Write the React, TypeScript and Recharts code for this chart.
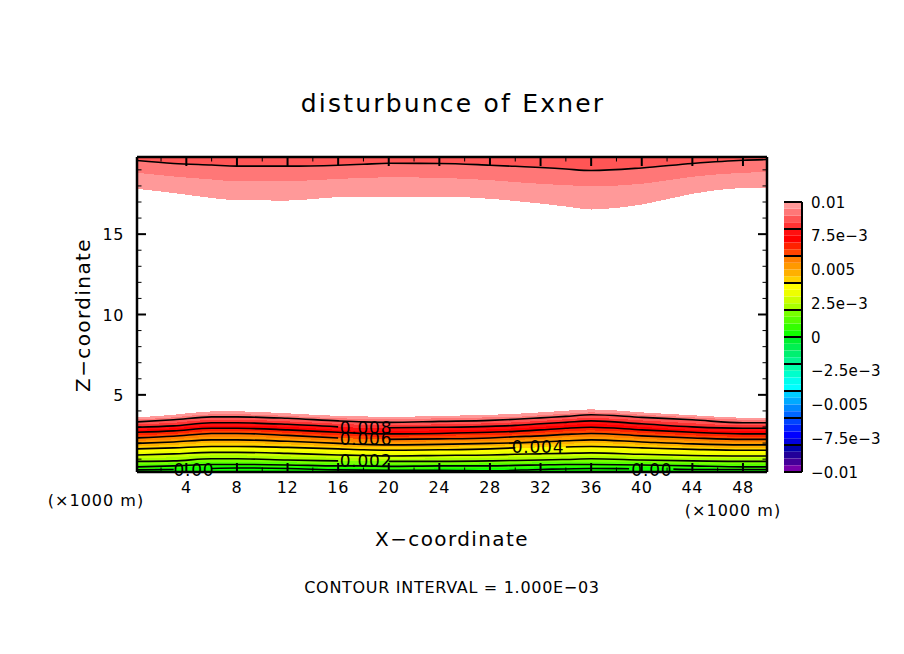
import React from "react";
import {
  Area,
  Bar,
  BarChart,
  ComposedChart,
  Line,
  ReferenceDot,
  ReferenceLine,
  XAxis,
  YAxis,
} from "recharts";

const FONT = "'DejaVu Sans', sans-serif";

const xs = [0.1, 3, 6, 8, 12, 16, 18, 20, 24, 28, 30, 32, 34, 36, 40, 44, 48, 49.9];

// height (km) of each contour in the lower layer, c095 = 0.0095 etc
const c100 = [3.6, 3.76, 3.97, 3.97, 3.85, 3.69, 3.66, 3.63, 3.69, 3.76, 3.82, 3.91, 4.01, 4.1, 3.91, 3.73, 3.57, 3.54];
const c095 = [3.47, 3.6, 3.79, 3.79, 3.69, 3.54, 3.51, 3.48, 3.54, 3.6, 3.63, 3.73, 3.82, 3.91, 3.76, 3.6, 3.45, 3.41];
const c090 = [3.32, 3.45, 3.63, 3.63, 3.54, 3.38, 3.32, 3.29, 3.35, 3.41, 3.48, 3.57, 3.66, 3.76, 3.6, 3.45, 3.26, 3.26];
const c085 = [3.17, 3.26, 3.45, 3.45, 3.35, 3.2, 3.13, 3.1, 3.17, 3.23, 3.29, 3.38, 3.48, 3.57, 3.41, 3.23, 3.1, 3.1];
const c080 = [2.98, 3.07, 3.26, 3.26, 3.17, 3.01, 2.95, 2.95, 2.98, 3.04, 3.1, 3.2, 3.29, 3.38, 3.2, 3.01, 2.92, 2.92];
const c075 = [2.82, 2.92, 3.07, 3.07, 3.01, 2.82, 2.76, 2.76, 2.79, 2.85, 2.92, 3.01, 3.1, 3.2, 3.01, 2.82, 2.73, 2.73];
const c070 = [2.67, 2.76, 2.92, 2.92, 2.82, 2.67, 2.6, 2.57, 2.6, 2.67, 2.73, 2.82, 2.92, 2.98, 2.82, 2.67, 2.57, 2.57];
const c065 = [2.51, 2.57, 2.76, 2.76, 2.64, 2.48, 2.42, 2.39, 2.45, 2.51, 2.54, 2.64, 2.73, 2.79, 2.64, 2.48, 2.39, 2.39];
const c060 = [2.32, 2.42, 2.6, 2.6, 2.48, 2.32, 2.26, 2.23, 2.26, 2.32, 2.39, 2.45, 2.54, 2.6, 2.45, 2.32, 2.23, 2.23];
const c055 = [2.14, 2.23, 2.39, 2.39, 2.29, 2.14, 2.07, 2.07, 2.11, 2.14, 2.2, 2.26, 2.36, 2.39, 2.26, 2.14, 2.04, 2.04];
const c050 = [1.98, 2.07, 2.2, 2.2, 2.11, 1.98, 1.92, 1.89, 1.92, 1.98, 2.01, 2.07, 2.14, 2.2, 2.07, 1.95, 1.89, 1.89];
const c045 = [1.79, 1.89, 2.01, 2.01, 1.92, 1.79, 1.76, 1.73, 1.76, 1.83, 1.86, 1.89, 1.95, 2.01, 1.89, 1.76, 1.7, 1.7];
const c040 = [1.64, 1.7, 1.79, 1.79, 1.73, 1.64, 1.58, 1.55, 1.58, 1.64, 1.7, 1.73, 1.76, 1.79, 1.7, 1.61, 1.55, 1.55];
const c035 = [1.45, 1.51, 1.61, 1.61, 1.55, 1.45, 1.39, 1.39, 1.39, 1.45, 1.51, 1.55, 1.58, 1.61, 1.51, 1.42, 1.36, 1.36];
const c030 = [1.26, 1.33, 1.42, 1.42, 1.36, 1.26, 1.23, 1.2, 1.23, 1.26, 1.3, 1.33, 1.36, 1.39, 1.3, 1.23, 1.2, 1.2];
const c025 = [1.08, 1.11, 1.23, 1.23, 1.17, 1.08, 1.05, 1.02, 1.05, 1.08, 1.11, 1.14, 1.17, 1.2, 1.14, 1.08, 1.05, 1.05];
const c020 = [0.86, 0.89, 1.02, 1.02, 0.95, 0.89, 0.86, 0.86, 0.86, 0.89, 0.92, 0.95, 0.98, 1.02, 0.95, 0.89, 0.86, 0.86];
const c015 = [0.67, 0.74, 0.83, 0.83, 0.8, 0.74, 0.7, 0.7, 0.7, 0.74, 0.77, 0.8, 0.83, 0.83, 0.8, 0.74, 0.67, 0.67];
const c010 = [0.52, 0.58, 0.67, 0.67, 0.64, 0.58, 0.58, 0.55, 0.58, 0.58, 0.61, 0.64, 0.67, 0.67, 0.64, 0.58, 0.52, 0.52];
const c005 = [0.39, 0.45, 0.55, 0.55, 0.52, 0.45, 0.42, 0.39, 0.42, 0.42, 0.45, 0.49, 0.52, 0.52, 0.49, 0.45, 0.39, 0.39];

// the zero contour has its own breaks around the two "0.00" labels
const c000Xs = [0.1, 3, 4.5, 6, 8, 12, 16, 20, 24, 28, 32, 36, 39, 40.5, 42.5, 44, 48, 49.9];
const c000Zs = [0.33, 0.36, null, 0.42, 0.45, 0.42, 0.33, 0.3, 0.3, 0.27, 0.36, 0.42, 0.4, null, 0.38, 0.36, 0.36, 0.36];

// upper layer, the field falls back under 0.01 near the model top
const upper100 = [17.82, 17.56, 17.25, 17.11, 17.09, 17.3, 17.32, 17.34, 17.34, 17.2, 17.06, 16.9, 16.72, 16.53, 16.84, 17.51, 17.88, 17.9];
const upper095 = [18.82, 18.59, 18.4, 18.29, 18.29, 18.44, 18.49, 18.54, 18.5, 18.36, 18.24, 18.13, 18.05, 17.98, 18.13, 18.57, 18.82, 18.85];
const upper090 = [19.58, 19.4, 19.3, 19.23, 19.23, 19.29, 19.35, 19.41, 19.4, 19.29, 19.22, 19.15, 19.05, 18.96, 19.12, 19.4, 19.6, 19.64];

const bandLevels = [c100, c095, c090, c085, c080, c075, c070, c065, c060, c055, c050, c045, c040, c035, c030, c025, c020, c015, c010, c005];
const bandColors = [
  "#ff9999", "#ff7777", "#ff5555", "#ff3333",
  "#ff1010", "#ff0000", "#ff2200", "#ff4400",
  "#ff8000", "#ff9900", "#ffb000", "#ffd000",
  "#ffff00", "#eeff00", "#ccff00", "#aaff00",
  "#77ff00", "#55ff00", "#33ff00", "#11ff00",
];

const contourLevels = [c010, c020, c030, c040, c050, c060, c070, c080, c090];
// x sample that is left out of each contour so the line breaks at its label
const contourGaps = [[], [18], [], [32], [], [18], [], [18], []];

const upperLevels = [upper100, upper095, upper090];
const upperColors = ["#ff9999", "#ff7777", "#ff5555"];

const labelTexts = ["0.00", "0.00", "0.002", "0.004", "0.006", "0.008"];
const labelXs = [4.6, 40.8, 18.2, 31.8, 18.2, 18.2];
const labelZs = [0.33, 0.33, 0.89, 1.73, 2.26, 2.95];

const xTicks = [2, 4, 6, 8, 10, 12, 14, 16, 18, 20, 22, 24, 26, 28, 30, 32, 34, 36, 38, 40, 42, 44, 46, 48];
const zTicks = [1, 2, 3, 4, 5, 6, 7, 8, 9, 10, 11, 12, 13, 14, 15, 16, 17, 18, 19];
const xDomain = [0.1, 49.9];
const zDomain = [0.2, 19.8];

// colour bar, from zero outwards
const barUpColors = [
  "#11ff00", "#33ff00", "#55ff00", "#77ff00",
  "#aaff00", "#ccff00", "#eeff00", "#ffff00",
  "#ffd000", "#ffb000", "#ff9900", "#ff8000",
  "#ff4400", "#ff2200", "#ff0000", "#ff1010",
  "#ff3333", "#ff5555", "#ff7777", "#ff9999",
];
const barDownColors = [
  "#00f030", "#00f050", "#00f070", "#00f590",
  "#00ffaa", "#00ffcc", "#00ffee", "#00ffff",
  "#00ccff", "#00aaff", "#0088ff", "#0066ff",
  "#0044ff", "#0022ff", "#0000ff", "#0000dd",
  "#0000aa", "#220099", "#440099", "#7700aa",
];
const barStep = 0.0005;
const barTicks = [0.01, 0.0075, 0.005, 0.0025, 0, -0.0025, -0.005, -0.0075, -0.01];
const barTickLabels = ["0.01", "7.5e\u22123", "0.005", "2.5e\u22123", "0", "\u22122.5e\u22123", "\u22120.005", "\u22127.5e\u22123", "\u22120.01"];
const barLines = [0.01, 0.008, 0.006, 0.004, 0.002, 0, -0.002, -0.004, -0.006, -0.008, -0.01];

const rows = xs.map((x, i) => {
  const row: any = { x };
  bandLevels.forEach((lv, k) => (row[`b${k}`] = lv[i]));
  upperLevels.forEach((lv, k) => (row[`u${k}`] = lv[i]));
  contourLevels.forEach((lv, k) => {
    row[`l${k}`] = contourGaps[k].includes(x) ? null : lv[i];
  });
  row.top = upper090[i];
  return row;
});
const zeroRows = c000Xs.map((x, i) => ({ x, z: c000Zs[i] }));

const barRow: any = { name: "bar" };
barUpColors.forEach((_, i) => (barRow[`p${i}`] = barStep));
barDownColors.forEach((_, i) => (barRow[`n${i}`] = -barStep));

const textProps = { fontFamily: FONT, fill: "#000", textAnchor: "middle" as const };

const xTick = (dir: number, labelled: boolean) => (p: any) => {
  const v = p.payload.value;
  const major = v % 4 === 0;
  return (
    <g>
      <line x1={p.x} x2={p.x} y1={p.y} y2={p.y + dir * (major ? 9 : 4.5)} stroke="#000" strokeWidth={major ? 2 : 1} />
      {labelled && major && (
        <text {...textProps} x={p.x} y={493} fontSize={16} letterSpacing={0.6}>
          {v}
        </text>
      )}
    </g>
  );
};

const zTick = (dir: number, labelled: boolean) => (p: any) => {
  const v = p.payload.value;
  const major = v % 5 === 0;
  return (
    <g>
      <line x1={p.x} x2={p.x + dir * (major ? 9 : 4.5)} y1={p.y} y2={p.y} stroke="#000" strokeWidth={major ? 2 : 1} />
      {labelled && major && (
        <text {...textProps} textAnchor="end" x={124} y={p.y + 6} fontSize={16} letterSpacing={0.6}>
          {v}
        </text>
      )}
    </g>
  );
};

const barTick = (p: any) => {
  const idx = barTicks.indexOf(p.payload.value);
  return (
    <text fontFamily={FONT} fill="#000" x={p.x + 9} y={p.y + 5.5} fontSize={15} letterSpacing={0.3}>
      {barTickLabels[idx]}
    </text>
  );
};

const frame = { stroke: "#000", strokeWidth: 2.5 };

export default function App() {
  return (
    <div style={{ position: "absolute", left: 0, top: 0, width: 904, height: 654, background: "#fff" }}>
      <ComposedChart width={904} height={654} data={rows} margin={{ top: 0, right: 0, bottom: 0, left: 0 }}>
        {bandLevels.map((_, k) => (
          <Area
            key={`band${k}`}
            xAxisId="bottom"
            yAxisId="left"
            type="monotone"
            dataKey={(r: any) => [zDomain[0], r[`b${k}`]]}
            fill={bandColors[k]}
            fillOpacity={1}
            stroke="none"
            dot={false}
            activeDot={false}
            isAnimationActive={false}
            shapeRendering="crispEdges"
          />
        ))}
        {upperLevels.map((_, k) => (
          <Area
            key={`upper${k}`}
            xAxisId="bottom"
            yAxisId="left"
            type="monotone"
            dataKey={(r: any) => [r[`u${k}`], zDomain[1]]}
            fill={upperColors[k]}
            fillOpacity={1}
            stroke="none"
            dot={false}
            activeDot={false}
            isAnimationActive={false}
            shapeRendering="crispEdges"
          />
        ))}
        {contourLevels.map((_, k) => (
          <Line
            key={`contour${k}`}
            xAxisId="bottom"
            yAxisId="left"
            type="monotone"
            dataKey={`l${k}`}
            stroke="#000"
            strokeWidth={1.6}
            dot={false}
            activeDot={false}
            connectNulls={false}
            isAnimationActive={false}
          />
        ))}
        <Line
          xAxisId="bottom"
          yAxisId="left"
          type="monotone"
          dataKey="top"
          stroke="#000"
          strokeWidth={1.6}
          dot={false}
          activeDot={false}
          isAnimationActive={false}
        />
        <Line
          xAxisId="bottom"
          yAxisId="left"
          data={zeroRows}
          type="monotone"
          dataKey="z"
          stroke="#000"
          strokeWidth={1.6}
          dot={false}
          activeDot={false}
          connectNulls={false}
          isAnimationActive={false}
        />
        <XAxis
          xAxisId="bottom"
          type="number"
          dataKey="x"
          orientation="bottom"
          height={182}
          domain={xDomain}
          allowDataOverflow
          ticks={xTicks}
          interval={0}
          tickSize={0}
          tickMargin={0}
          tickLine={false}
          axisLine={frame}
          tick={xTick(-1, true)}
        />
        <XAxis
          xAxisId="top"
          type="number"
          dataKey="x"
          orientation="top"
          height={157}
          domain={xDomain}
          allowDataOverflow
          ticks={xTicks}
          interval={0}
          tickSize={0}
          tickMargin={0}
          tickLine={false}
          axisLine={frame}
          tick={xTick(1, false)}
        />
        <YAxis
          yAxisId="left"
          type="number"
          orientation="left"
          width={137}
          domain={zDomain}
          allowDataOverflow
          ticks={zTicks}
          interval={0}
          tickSize={0}
          tickMargin={0}
          tickLine={false}
          axisLine={frame}
          tick={zTick(1, true)}
        />
        <YAxis
          yAxisId="right"
          type="number"
          orientation="right"
          width={137}
          domain={zDomain}
          allowDataOverflow
          ticks={zTicks}
          interval={0}
          tickSize={0}
          tickMargin={0}
          tickLine={false}
          axisLine={frame}
          tick={zTick(-1, false)}
        />
        {labelTexts.map((t, i) => (
          <ReferenceDot
            key={`label${i}`}
            xAxisId="bottom"
            yAxisId="left"
            x={labelXs[i]}
            y={labelZs[i]}
            r={0}
            stroke="none"
            ifOverflow="visible"
            label={{ value: t, position: "center", fontFamily: FONT, fontSize: 17, letterSpacing: 0.8, fill: "#000" }}
          />
        ))}
        <text {...textProps} x={453} y={112} fontSize={25} letterSpacing={2.2}>
          disturbunce of Exner
        </text>
        <text {...textProps} x={452} y={546} fontSize={20} letterSpacing={1.4}>
          X{"\u2212"}coordinate
        </text>
        <text {...textProps} x={0} y={0} fontSize={20} letterSpacing={1.4} transform="translate(90 315) rotate(-90)">
          Z{"\u2212"}coordinate
        </text>
        <text {...textProps} x={96} y={506} fontSize={16} letterSpacing={1}>
          ({"\u00d7"}1000 m)
        </text>
        <text {...textProps} x={733} y={516} fontSize={16} letterSpacing={1}>
          ({"\u00d7"}1000 m)
        </text>
        <text {...textProps} x={452} y={593} fontSize={16} letterSpacing={0.7}>
          CONTOUR INTERVAL = 1.000E{"\u2212"}03
        </text>
      </ComposedChart>

      <div style={{ position: "absolute", left: 784, top: 192 }}>
        <BarChart
          width={120}
          height={290}
          data={[barRow]}
          stackOffset="sign"
          barCategoryGap={0}
          margin={{ top: 10, right: 0, bottom: 10, left: 0 }}
        >
          <XAxis dataKey="name" hide />
          {barUpColors.map((c, i) => (
            <Bar key={`p${i}`} yAxisId="labels" dataKey={`p${i}`} stackId="c" fill={c} isAnimationActive={false} />
          ))}
          {barDownColors.map((c, i) => (
            <Bar key={`n${i}`} yAxisId="labels" dataKey={`n${i}`} stackId="c" fill={c} isAnimationActive={false} />
          ))}
          {barLines.map((v) => (
            <ReferenceLine key={v} yAxisId="labels" y={v} stroke="#000" strokeWidth={2} />
          ))}
          <YAxis
            yAxisId="labels"
            type="number"
            orientation="right"
            width={102}
            domain={[-0.01, 0.01]}
            ticks={barTicks}
            interval={0}
            tickSize={0}
            tickMargin={0}
            tickLine={false}
            axisLine={{ stroke: "#000", strokeWidth: 2 }}
            tick={barTick}
          />
          <YAxis
            yAxisId="side"
            type="number"
            orientation="left"
            width={0}
            domain={[-0.01, 0.01]}
            tick={false}
            tickLine={false}
            axisLine={{ stroke: "#000", strokeWidth: 2 }}
          />
        </BarChart>
      </div>
    </div>
  );
}
